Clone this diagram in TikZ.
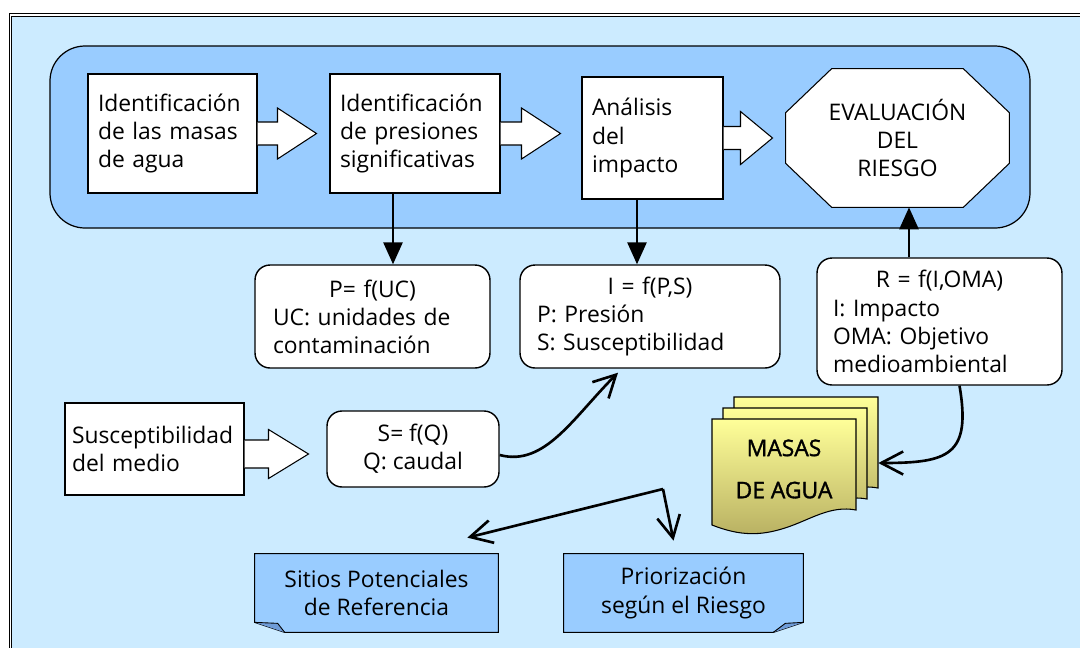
\documentclass[tikz,border=0pt]{standalone}
\usepackage{fontspec}
\setmainfont{Open Sans}
\newfontfamily\masasfont{Open Sans}[FakeBold=1.5]
\usetikzlibrary{arrows.meta,calc,backgrounds}
\setlength{\parindent}{0pt}
\definecolor{bgblue}{RGB}{204,235,255}
\definecolor{panelblue}{RGB}{153,204,255}
\definecolor{foldblue}{RGB}{110,155,215}
\definecolor{doctop}{RGB}{255,255,153}
\definecolor{docbot}{RGB}{184,176,98}
\tikzset{
  stagebox/.style={draw, fill=white, line width=0.6pt, align=left, inner xsep=0.2cm, minimum height=2.38cm},
  formbox/.style={draw, fill=white, line width=0.8pt, rounded corners=0.3cm, align=left},
  conn/.style={line width=1.6pt, -{Triangle[width=0.38cm,length=0.44cm]}},
  curvconn/.style={line width=1.5pt, -{Straight Barb[width=0.46cm,length=0.44cm]}},
}
% block arrow: start anchor, shaft length, shaft half width, head half width, head length
\newcommand{\bigarrow}[5]{%
  \draw[fill=white, line width=0.6pt] ($(#1)+(0,-#3)$) -- ++(#2,0) -- ++(0,{#3-#4})
    -- ++(#5,#4) -- ++(-#5,#4) -- ++(0,{#3-#4}) -- ++(-#2,0);}
\begin{document}
\begin{tikzpicture}[x=0.02cm, y=-0.02cm, font=\fontsize{13}{16}\selectfont]
\useasboundingbox (0,0) rectangle (1080,647);
\begin{scope}[on background layer]
  \clip (0,0) rectangle (1080,647);
  \fill[white] (0,0) rectangle (1080,647);
  \draw[fill=bgblue, double, double distance=0.7pt, line width=0.7pt] (10.5,15) rectangle (1100,670);
  \draw[fill=panelblue, line width=0.7pt, rounded corners=0.7cm] (50,46) rectangle (1030,228);
\end{scope}

% process chain
\node[stagebox, text width=2.98cm, minimum width=3.38cm] (ident) at (172.5,133.5) {Identificación\\de las masas\\de agua};
\node[stagebox, text width=3.0cm, minimum width=3.4cm] (press) at (415,133.5) {Identificación\\de presiones\\significativas};
\node[stagebox, text width=2.42cm, minimum width=2.82cm, minimum height=2.44cm] (impact) at (652.5,138) {Análisis\\del\\impacto};
\node[align=center, minimum width=4.46cm, minimum height=2.76cm] (risk) at (897.5,138) {EVALUACIÓN\\DEL\\RIESGO};

% formulas
\node[formbox, text width=3.98cm, inner xsep=0.36cm, minimum height=2.06cm] (pfun) at (372.5,316.5) {\makebox[3.98cm]{P= f(UC)}\\UC: unidades de\\contaminación};
\node[formbox, text width=4.52cm, inner xsep=0.34cm, minimum height=2.06cm] (ifun) at (650,316.5) {\makebox[4.52cm]{I = f(P,S)}\\P: Presión\\S: Susceptibilidad};
\node[formbox, text width=4.26cm, inner xsep=0.32cm, minimum height=2.54cm] (rfun) at (939.5,321.5) {\makebox[4.26cm]{R = f(I,OMA)}\\I: Impacto\\OMA: Objetivo\\medioambiental};
\node[stagebox, text width=3.3cm, inner xsep=0.14cm, minimum width=3.58cm, minimum height=1.84cm] (susc) at (154.5,449) {Susceptibilidad\\del medio};
\node[formbox, align=center, minimum width=3.44cm, minimum height=1.52cm] (sfun) at (413,449) {S= f(Q)\\Q: caudal};

% outputs
\node[align=center, minimum width=2.88cm, minimum height=2.12cm, font=\fontsize{13}{16}\masasfont] (masas) at (784,469) {MASAS\\[8pt]DE AGUA};
\node[align=center, minimum width=4.86cm, minimum height=1.56cm] (sitios) at (376.5,593) {Sitios Potenciales\\de Referencia};
\node[align=center, minimum width=4.78cm, minimum height=1.56cm] (prior) at (683.5,593) {Priorización\\según el Riesgo};

\bigarrow{ident.east}{20}{11.5}{25.5}{39}
\bigarrow{press.east}{21}{11.5}{25.5}{39}
\bigarrow{impact.east}{17}{11.5}{26.5}{32}
\bigarrow{[yshift=-0.1cm]susc.east}{24}{14}{24.5}{40}

\draw[conn] ([xshift=-0.44cm]press.south) -- ([xshift=-0.44cm]press.south |- pfun.north);
\draw[conn] ([xshift=-0.31cm]impact.south) -- ([xshift=-0.31cm]impact.south |- ifun.north);
\draw[conn] ([xshift=-0.61cm]rfun.north) -- ([xshift=-0.61cm]rfun.north |- risk.south);

\draw[curvconn] ([yshift=-0.12cm]sfun.east) .. controls +(45,12) and +(-45,45) .. ($(ifun.south)+(-32,4)$);
\draw[curvconn] ([xshift=0.4cm]rfun.south) .. controls +(12,70) and +(70,0) .. ($(masas.east)+(22,-6)$);

\coordinate (fork) at (663,489);
\draw[curvconn] (fork) -- ($(sitios.north east)+(-31,-16)$);
\draw[curvconn] (fork) -- ($(prior.north)+(-10,-13)$);

\begin{scope}[on background layer]
  % octagon
  \draw[fill=white, line width=0.6pt] ($(risk.north west)+(46,0)$) -- ($(risk.north east)+(-46,0)$)
    -- ($(risk.north east)+(0,44)$) -- ($(risk.south east)+(0,-44)$) -- ($(risk.south east)+(-46,0)$)
    -- ($(risk.south west)+(46,0)$) -- ($(risk.south west)+(0,-44)$) -- ($(risk.north west)+(0,44)$) -- cycle;
  % stacked sheets
  \foreach \d in {22,11,0}
    \draw[top color=doctop, bottom color=docbot, line width=0.6pt, shift={(\d,-\d)}] (712,419) -- (856,419) -- (856,510)
      .. controls (830,505) and (810,520) .. (785,528) .. controls (760,536) and (740,536) .. (712,525) -- cycle;
  % curled notes
  \draw[fill=panelblue, line width=0.6pt] (sitios.north west) -- (sitios.north east) -- (sitios.south east)
    -- ($(sitios.south west)+(30,0)$) -- ($(sitios.south west)+(0,-10)$) -- cycle;
  \draw[fill=foldblue, line width=0.5pt] ($(sitios.south west)+(0,-10)$) -- ($(sitios.south west)+(23,-9)$) -- ($(sitios.south west)+(30,0)$);
  \draw[fill=panelblue, line width=0.6pt] (prior.north west) -- (prior.north east) -- ($(prior.south east)+(0,-10)$)
    -- ($(prior.south east)+(-30,0)$) -- (prior.south west) -- cycle;
  \draw[fill=foldblue, line width=0.5pt] ($(prior.south east)+(0,-10)$) -- ($(prior.south east)+(-18,-9)$) -- ($(prior.south east)+(-30,0)$);
\end{scope}
\end{tikzpicture}
\end{document}
